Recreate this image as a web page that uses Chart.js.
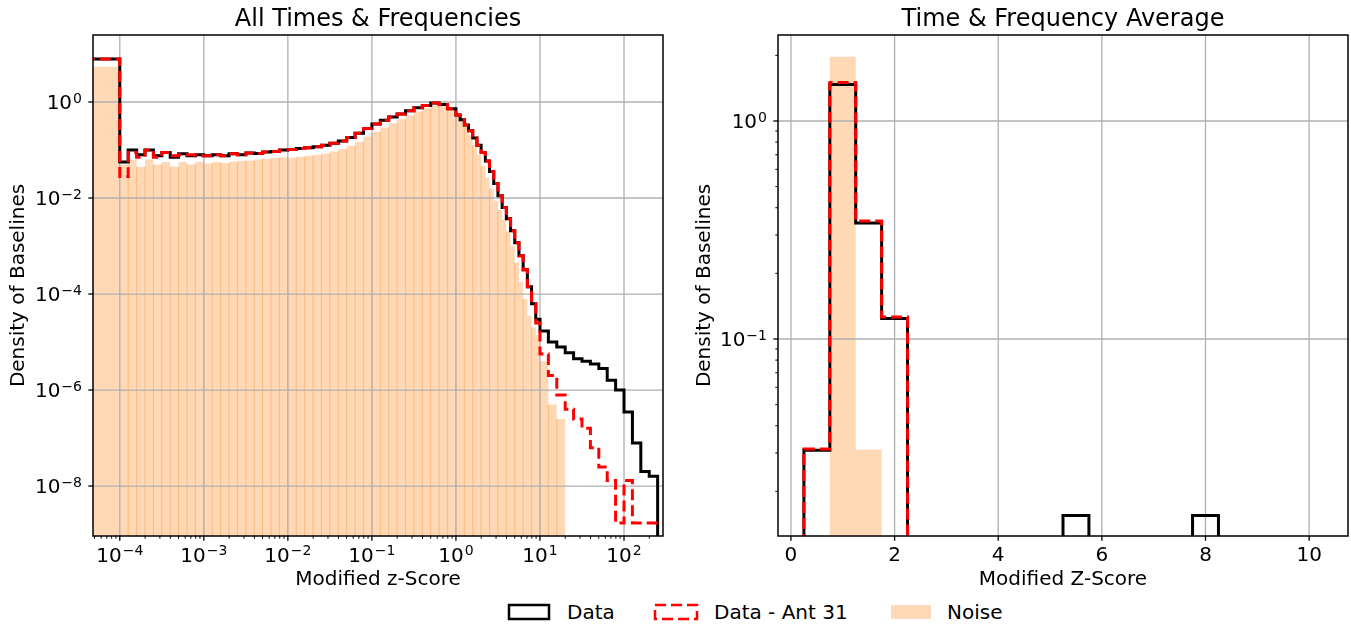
<!DOCTYPE html>
<html>
<head>
<meta charset="utf-8">
<script src="https://cdn.jsdelivr.net/npm/chart.js@4.4.1/dist/chart.umd.min.js"></script>
<style>
  body { margin: 0; background: #fff; font-family: "DejaVu Sans", sans-serif; }
  #fig { position: relative; width: 1351px; height: 624px; overflow: hidden; background: #fff; }
  canvas { position: absolute; top: 0; }
  .sw { position: absolute; top: 603px; }
  .lab { position: absolute; top: 600px; font-size: 20px; line-height: 24px; color: #000; white-space: nowrap; }
</style>
</head>
<body>
<div id="fig">
  <canvas id="allTimes" width="680" height="600" style="left:0"></canvas>
  <canvas id="average" width="671" height="600" style="left:680px"></canvas>

  <svg class="sw" style="left:507px" width="44" height="18"><rect x="2" y="2" width="40" height="14" fill="none" stroke="#000" stroke-width="2.5"/></svg>
  <span class="lab" style="left:567px">Data</span>
  <svg class="sw" style="left:653px" width="46" height="18"><rect x="2" y="2" width="42" height="14" fill="none" stroke="#ff0000" stroke-width="2.5" stroke-dasharray="11 5"/></svg>
  <span class="lab" style="left:714px">Data - Ant 31</span>
  <svg class="sw" style="left:889px" width="44" height="18"><rect x="2" y="2" width="40" height="14" fill="rgba(255,127,14,0.3)"/></svg>
  <span class="lab" style="left:947px">Noise</span>
</div>

<script>
// ---- left panel: all times & frequencies
// bins: z < 1e-4, then 0.1 decade up to 1, 0.05 decade from 1 to 10, 0.1 decade above 10
const zEdges = [1e-5]
  .concat(Array.from({ length: 41 }, (_, i) => Math.pow(10, -4 + i / 10)))
  .concat(Array.from({ length: 20 }, (_, i) => Math.pow(10, (i + 1) / 20)))
  .concat(Array.from({ length: 15 }, (_, i) => Math.pow(10, 1 + (i + 1) / 10)));

const zData = [7.9,
  0.0562, 0.100, 0.0794, 0.100, 0.0759, 0.0891, 0.0708, 0.0832, 0.0759, 0.0794,
  0.0759, 0.0794, 0.0759, 0.0832, 0.0794, 0.0871, 0.0851, 0.0912, 0.0933, 0.100,
  0.102, 0.107, 0.112, 0.117, 0.126, 0.138, 0.155, 0.182, 0.224, 0.282,
  0.347, 0.417, 0.490, 0.562, 0.661, 0.759, 0.851, 0.955, 0.891, 0.724,
  0.537, 0.427, 0.331, 0.251, 0.178, 0.126, 0.0891, 0.0589, 0.0355, 0.0200,
  0.0112, 0.00631, 0.00372, 0.00209, 0.00117, 6.3e-4, 3.2e-4, 1.41e-4, 6.3e-5, 3.0e-5,
  1.7e-5, 1.0e-5, 7.9e-6, 6.0e-6, 4.5e-6, 4.0e-6, 3.5e-6, 2.8e-6, 1.6e-6, 1.0e-6,
  3.5e-7, 7.9e-8, 2.0e-8, 1.6e-8, 0];

const zAnt31 = [7.9,
  0.0282, 0.0891, 0.0708, 0.100, 0.0708, 0.0891, 0.0759, 0.0794, 0.0794, 0.0759,
  0.0759, 0.0794, 0.0759, 0.0832, 0.0794, 0.0871, 0.0851, 0.0912, 0.0933, 0.100,
  0.102, 0.107, 0.112, 0.117, 0.126, 0.138, 0.155, 0.182, 0.224, 0.282,
  0.347, 0.417, 0.490, 0.562, 0.661, 0.759, 0.851, 0.955, 0.891, 0.724,
  0.537, 0.427, 0.331, 0.251, 0.178, 0.126, 0.0891, 0.0589, 0.0355, 0.0200,
  0.0112, 0.00631, 0.00372, 0.00209, 0.00117, 6.3e-4, 3.2e-4, 1.41e-4, 6.3e-5, 2.5e-5,
  5.6e-6, 2.0e-6, 7.9e-7, 4.0e-7, 2.5e-7, 1.6e-7, 6.3e-8, 2.5e-8, 1.3e-8, 1.7e-9,
  1.3e-8, 1.7e-9, 1.7e-9, 1.7e-9, 1.7e-9];

const zNoise = [5.4,
  0.0501, 0.0631, 0.0447, 0.0631, 0.0501, 0.0562, 0.0447, 0.0562, 0.0501, 0.0562,
  0.0525, 0.0562, 0.0537, 0.0575, 0.0589, 0.0603, 0.0631, 0.0661, 0.0692, 0.0708,
  0.0692, 0.0724, 0.0759, 0.0794, 0.0851, 0.0933, 0.105, 0.123, 0.148, 0.191,
  0.240, 0.295, 0.363, 0.437, 0.525, 0.631, 0.741, 0.832, 0.871, 0.759,
  0.537, 0.417, 0.302, 0.200, 0.126, 0.0794, 0.0468, 0.0263, 0.0158, 0.00891,
  0.00562, 0.00355, 0.00200, 0.00100, 4.5e-4, 1.78e-4, 7.9e-5, 3.5e-5, 2.0e-5, 1.41e-5,
  4.0e-6, 5.0e-7, 2.5e-7, 0, 0, 0, 0, 0, 0, 0,
  0, 0, 0, 0, 0];

// tick labels as [mantissa, exponent] the way matplotlib typesets 10^{n}
const zTickVals = [1e-4, 1e-3, 1e-2, 1e-1, 1, 10, 100];
const zTickLabels = [['10', '−4'], ['10', '−3'], ['10', '−2'], ['10', '−1'], ['10', '0'], ['10', '1'], ['10', '2']];
const zDensVals = [1e-8, 1e-6, 1e-4, 1e-2, 1];
const zDensLabels = [['10', '−8'], ['10', '−6'], ['10', '−4'], ['10', '−2'], ['10', '0']];

// ---- right panel: time & frequency average, 0.5 wide bins
const avgEdges = [0.25, 0.75, 1.25, 1.75, 2.25, 2.75, 3.25, 3.75, 4.25, 4.75, 5.25,
  5.75, 6.25, 6.75, 7.25, 7.75, 8.25, 8.75, 9.25, 9.75, 10.25];
const avgData  = [0.0309, 1.47, 0.340, 0.124, 0, 0, 0, 0, 0, 0, 0.0155, 0, 0, 0, 0, 0.0155, 0, 0, 0, 0];
const avgAnt31 = [0.0313, 1.50, 0.348, 0.126, 0, 0, 0, 0, 0, 0, 0, 0, 0, 0, 0, 0, 0, 0, 0, 0];
const avgNoise = [0, 1.97, 0.0310, 0, 0, 0, 0, 0, 0, 0, 0, 0, 0, 0, 0, 0, 0, 0, 0, 0];

const avgTickVals = [0, 2, 4, 6, 8, 10];
const avgTickLabels = ['0', '2', '4', '6', '8', '10'];
const avgDensVals = [0.1, 1];
const avgDensLabels = [['10', '−1'], ['10', '0']];

const NOISE_FILL = 'rgba(255,127,14,0.3)';
const FONT = '"DejaVu Sans", sans-serif';
Chart.defaults.font.family = FONT;
Chart.defaults.color = '#000';

// histogram outline as step points; empty bins sit under the axis like matplotlib's clip
function steps(edges, values, floor) {
  const pts = [{ x: edges[0], y: floor }];
  values.forEach((v, i) => pts.push({ x: edges[i], y: v > 0 ? v : floor }));
  pts.push({ x: edges[values.length], y: floor });
  return pts;
}

function logMinors(min, max) {
  const out = [];
  for (let e = Math.floor(Math.log10(min)); e <= Math.ceil(Math.log10(max)); e++) {
    for (let m = 2; m <= 9; m++) {
      const v = m * Math.pow(10, e);
      if (v >= min && v <= max) out.push(v);
    }
  }
  return out;
}

function axis(o) {
  return {
    type: o.type, min: o.min, max: o.max, bounds: 'data',
    afterBuildTicks: s => {
      s.ticks = o.vals.map((v, i) => Array.isArray(o.labels[i])
          ? { value: v, text: '', base: o.labels[i][0], exp: o.labels[i][1] }
          : { value: v, text: o.labels[i] })
        .concat((o.minor || []).map(v => ({ value: v, minor: true, text: '' })))
        .sort((a, b) => a.value - b.value);
    },
    afterFit: s => { if (o.isY) s.width = o.size; else s.height = o.size; },
    ticks: {
      autoSkip: false, maxRotation: 0, minRotation: 0,
      padding: o.isY ? 11 : 8, font: { size: 20 }, color: '#000',
      callback: (v, i, t) => t[i].text
    },
    // the visible grid is drawn by the overNoise plugin so it sits above the noise fill
    grid: { color: 'rgba(0,0,0,0)', drawTicks: false },
    border: { display: false },
    title: {
      display: true, text: o.title, font: { size: 20 }, color: '#000',
      padding: o.isY ? { top: o.titlePad, bottom: 0 } : { top: 0, bottom: o.titlePad }
    }
  };
}

// after the noise fill: faint bar seams (every 0.1 decade) and the grid on top of it
const overNoise = {
  id: 'overNoise',
  afterDatasetDraw(chart, args, opts) {
    if (chart.data.datasets[args.index].label !== 'Noise') return;
    const { ctx, chartArea: a } = chart;
    const xs = chart.scales.x, ys = chart.scales.y;
    ctx.save();
    ctx.beginPath(); ctx.rect(a.left, a.top, a.right - a.left, a.bottom - a.top); ctx.clip();
    if (opts.values) {
      ctx.strokeStyle = 'rgba(255,127,14,0.3)';
      ctx.lineWidth = 1.2;
      for (let i = 2; i < opts.values.length; i++) {
        const d = Math.log10(opts.edges[i]) * 10;
        if (Math.abs(d - Math.round(d)) > 1e-6) continue;
        const h = Math.min(opts.values[i - 1], opts.values[i]);
        if (!(h > 0)) continue;
        const px = xs.getPixelForValue(opts.edges[i]);
        ctx.beginPath(); ctx.moveTo(px, a.bottom); ctx.lineTo(px, ys.getPixelForValue(h)); ctx.stroke();
      }
    }
    ctx.strokeStyle = '#b0b0b0';
    ctx.lineWidth = 1.3;
    xs.ticks.filter(t => !t.minor).forEach(t => {
      const p = xs.getPixelForValue(t.value);
      ctx.beginPath(); ctx.moveTo(p, a.top); ctx.lineTo(p, a.bottom); ctx.stroke();
    });
    ys.ticks.filter(t => !t.minor).forEach(t => {
      const p = ys.getPixelForValue(t.value);
      ctx.beginPath(); ctx.moveTo(a.left, p); ctx.lineTo(a.right, p); ctx.stroke();
    });
    ctx.restore();
  }
};

// spines on all four sides, outward tick marks, and 10^n labels with a raised exponent
const frame = {
  id: 'frame',
  afterDatasetsDraw(chart) {
    const { ctx, chartArea: a } = chart;
    ctx.save();
    ctx.strokeStyle = '#000';
    const xs = chart.scales.x, ys = chart.scales.y;
    xs.ticks.forEach(t => {
      const p = xs.getPixelForValue(t.value);
      const len = t.minor ? 2.7 : 4.7;
      ctx.lineWidth = t.minor ? 1 : 1.3;
      ctx.beginPath(); ctx.moveTo(p, a.bottom); ctx.lineTo(p, a.bottom + len); ctx.stroke();
    });
    ys.ticks.forEach(t => {
      const p = ys.getPixelForValue(t.value);
      const len = t.minor ? 2.7 : 4.7;
      ctx.lineWidth = t.minor ? 1 : 1.3;
      ctx.beginPath(); ctx.moveTo(a.left, p); ctx.lineTo(a.left - len, p); ctx.stroke();
    });
    ctx.lineWidth = 1.5;
    ctx.strokeRect(a.left, a.top, a.right - a.left, a.bottom - a.top);

    ctx.fillStyle = '#000';
    ctx.textAlign = 'left';
    ctx.textBaseline = 'alphabetic';
    [xs, ys].forEach(s => {
      s.ticks.forEach(t => {
        if (!t.base) return;
        ctx.font = '20px ' + FONT;
        const wb = ctx.measureText(t.base).width;
        ctx.font = '14px ' + FONT;
        const we = ctx.measureText(t.exp).width;
        const p = s.getPixelForValue(t.value);
        let x0, y0;
        if (s === xs) { x0 = p - (wb + we + 1) / 2; y0 = a.bottom + 25.7; }
        else { x0 = a.left - 11 - (wb + we + 1); y0 = p + 7.3; }
        ctx.font = '20px ' + FONT;
        ctx.fillText(t.base, x0, y0);
        ctx.font = '14px ' + FONT;
        ctx.fillText(t.exp, x0 + wb + 1, y0 - 6.6);
      });
    });
    ctx.restore();
  }
};

function histSets(edges, data, ant, noise, floor) {
  return [
    { label: 'Data - Ant 31', data: steps(edges, ant, floor), stepped: 'before', borderColor: '#ff0000',
      borderWidth: 3, borderDash: [11, 5], pointRadius: 0, fill: false, borderCapStyle: 'butt' },
    { label: 'Data', data: steps(edges, data, floor), stepped: 'before', borderColor: '#000',
      borderWidth: 3, pointRadius: 0, fill: false },
    { label: 'Noise', data: steps(edges, noise, floor), stepped: 'before', borderWidth: 0,
      borderColor: 'rgba(0,0,0,0)', backgroundColor: NOISE_FILL, fill: 'start', pointRadius: 0 }
  ];
}

function baseOptions(title, padRight, scales, seamOpts) {
  return {
    responsive: false, animation: false, devicePixelRatio: 1,
    layout: { padding: { left: 0, right: padRight, top: 0, bottom: 0 } },
    plugins: {
      legend: { display: false }, tooltip: { enabled: false },
      title: { display: true, text: title, fullSize: false, color: '#000',
               font: { size: 24, weight: 'normal' }, padding: { top: 5, bottom: 1.2 } },
      overNoise: seamOpts || {}
    },
    scales
  };
}

new Chart(document.getElementById('allTimes'), {
  type: 'line',
  data: { datasets: histSets(zEdges, zData, zAnt31, zNoise, 1e-12) },
  options: baseOptions('All Times & Frequencies', 17, {
    x: axis({ type: 'logarithmic', min: 4.8e-5, max: 291, vals: zTickVals, labels: zTickLabels,
              minor: logMinors(4.8e-5, 291), title: 'Modified z-Score', titlePad: 8, size: 64 }),
    y: axis({ type: 'logarithmic', min: 9.1e-10, max: 24.9, vals: zDensVals, labels: zDensLabels,
              title: 'Density of Baselines', titlePad: 7, size: 93, isY: true })
  }, { edges: zEdges, values: zNoise }),
  plugins: [overNoise, frame]
});

new Chart(document.getElementById('average'), {
  type: 'line',
  data: { datasets: histSets(avgEdges, avgData, avgAnt31, avgNoise, 1e-4) },
  options: baseOptions('Time & Frequency Average', 3, {
    x: axis({ type: 'linear', min: -0.25, max: 10.75, vals: avgTickVals, labels: avgTickLabels,
              title: 'Modified Z-Score', titlePad: 8, size: 64 }),
    y: axis({ type: 'logarithmic', min: 0.01248, max: 2.48, vals: avgDensVals, labels: avgDensLabels,
              minor: logMinors(0.01248, 2.48), title: 'Density of Baselines', titlePad: 13, size: 98, isY: true })
  }),
  plugins: [overNoise, frame]
});
</script>
</body>
</html>
